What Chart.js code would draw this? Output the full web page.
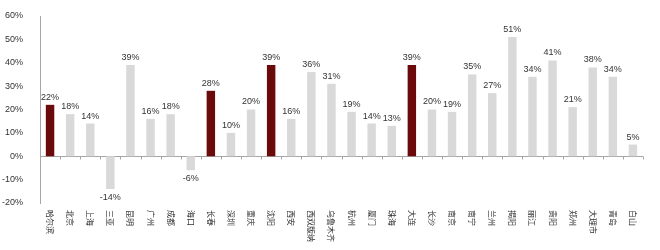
<!DOCTYPE html>
<html>
<head>
<meta charset="utf-8">
<script src="https://cdn.jsdelivr.net/npm/chart.js@4"></script>
<style>
  html, body { margin: 0; padding: 0; background: #fff; }
  #wrap { width: 660px; height: 250px; }
</style>
</head>
<body>
<div id="wrap"><canvas id="c" width="660" height="250"></canvas></div>
<script>
// categories (cities) and growth values in %
const cities = ['哈尔滨', '北京', '上海', '三亚', '昆明', '广州', '成都', '海口', '长春', '深圳',
  '重庆', '沈阳', '西安', '西双版纳', '乌鲁木齐', '杭州', '厦门', '珠海', '大连', '长沙',
  '南京', '南宁', '兰州', '揭阳', '丽江', '贵阳', '郑州', '大理市', '青岛', '白山'];
const growth = [22, 18, 14, -14, 39, 16, 18, -6, 28, 10,
  20, 39, 16, 36, 31, 19, 14, 13, 39, 20,
  19, 35, 27, 51, 34, 41, 21, 38, 34, 5];
const highlighted = ['哈尔滨', '长春', '沈阳', '大连'];
const yTicks = [-20, -10, 0, 10, 20, 30, 40, 50, 60];

const darkRed = '#6b0a0a';
const lightGray = '#d9d9d9';
const axisColor = '#a6a6a6';

// value labels above (or below) each bar
const valueLabels = {
  id: 'valueLabels',
  afterDatasetsDraw(chart) {
    const ctx = chart.ctx;
    const meta = chart.getDatasetMeta(0);
    ctx.save();
    ctx.font = '9px "Liberation Sans", Arial, sans-serif';
    ctx.fillStyle = '#333';
    ctx.textAlign = 'center';
    meta.data.forEach((bar, i) => {
      const v = growth[i];
      if (v >= 0) {
        ctx.textBaseline = 'bottom';
        ctx.fillText(v + '%', bar.x, bar.y - 3);
      } else {
        ctx.textBaseline = 'top';
        ctx.fillText(v + '%', bar.x, bar.y + 4);
      }
    });
    ctx.restore();
  }
};

// city names turned 90° clockwise under the plot
const cityLabels = {
  id: 'cityLabels',
  afterDraw(chart) {
    const ctx = chart.ctx;
    const xs = chart.scales.x;
    ctx.save();
    ctx.font = '8px "Noto Sans CJK SC", sans-serif';
    ctx.fillStyle = '#333';
    ctx.textAlign = 'left';
    ctx.textBaseline = 'middle';
    cities.forEach((c, i) => {
      ctx.save();
      ctx.translate(xs.getPixelForValue(i), xs.top + 7);
      ctx.rotate(Math.PI / 2);
      ctx.fillText(c, 0, 0);
      ctx.restore();
    });
    ctx.restore();
  }
};

// x axis line at zero with small tick marks between categories
const zeroAxis = {
  id: 'zeroAxis',
  beforeDatasetsDraw(chart) {
    const ctx = chart.ctx;
    const xs = chart.scales.x;
    const y0 = Math.round(chart.scales.y.getPixelForValue(0)) + 0.5;
    const step = (xs.right - xs.left) / cities.length;
    ctx.save();
    ctx.strokeStyle = axisColor;
    ctx.lineWidth = 1;
    ctx.beginPath();
    ctx.moveTo(xs.left, y0);
    ctx.lineTo(xs.right, y0);
    for (let i = 0; i <= cities.length; i++) {
      const x = Math.round(xs.left + i * step) + 0.5;
      ctx.moveTo(x, y0);
      ctx.lineTo(x, y0 + 3);
    }
    ctx.stroke();
    ctx.restore();
  }
};

new Chart(document.getElementById('c'), {
  type: 'bar',
  data: {
    labels: cities,
    datasets: [{
      data: growth,
      backgroundColor: cities.map(c => highlighted.includes(c) ? darkRed : lightGray),
      barPercentage: 0.42,
      categoryPercentage: 1
    }]
  },
  options: {
    responsive: false,
    animation: false,
    layout: { padding: { top: 16, right: 17, left: 0, bottom: 0 } },
    plugins: { legend: { display: false }, tooltip: { enabled: false } },
    scales: {
      x: {
        grid: { display: false },
        border: { display: false },
        ticks: { display: false },
        afterFit(scale) { scale.height = 47; }
      },
      y: {
        min: -20,
        max: 60,
        afterBuildTicks(scale) { scale.ticks = yTicks.map(v => ({ value: v })); },
        grid: { display: false },
        border: { display: true, color: axisColor },
        ticks: {
          padding: 9,
          color: '#333',
          font: { size: 9, family: '"Liberation Sans", Arial, sans-serif' },
          callback: v => v + '%'
        },
        afterFit(scale) { scale.width = 40; }
      }
    }
  },
  plugins: [zeroAxis, valueLabels, cityLabels]
});
</script>
</body>
</html>
